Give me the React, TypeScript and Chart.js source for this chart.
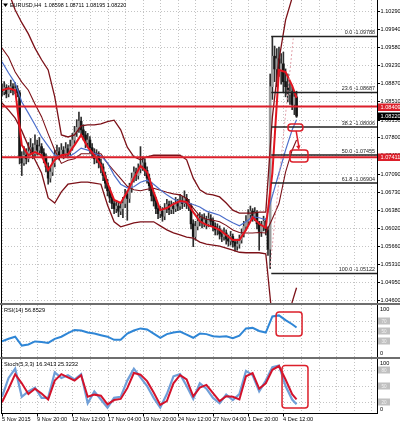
import { useEffect, useRef } from "react";
import { Chart, registerables } from "chart.js";

Chart.register(...registerables);

// ---------- EURUSD H4 candles ----------
const SYMBOL = "EURUSD,H4";

const OPENS = [
  1.0875, 1.0870, 1.0878, 1.0866, 1.0874, 1.0880, 1.0872, 1.0876, 1.0868, 1.0742,
  1.0730, 1.0745, 1.0738, 1.0752, 1.0760, 1.0748, 1.0765, 1.0755, 1.0762, 1.0750,
  1.0740, 1.0722, 1.0700, 1.0712, 1.0730, 1.0745, 1.0752, 1.0746, 1.0755, 1.0748,
  1.0758, 1.0750, 1.0762, 1.0775, 1.0790, 1.0800, 1.0812, 1.0795, 1.0785, 1.0770,
  1.0775, 1.0760, 1.0750, 1.0738, 1.0745, 1.0730, 1.0722, 1.0705, 1.0690, 1.0675,
  1.0662, 1.0650, 1.0640, 1.0645, 1.0635, 1.0640, 1.0650, 1.0668, 1.0660, 1.0680,
  1.0700, 1.0712, 1.0705, 1.0718, 1.0725, 1.0730, 1.0715, 1.0700, 1.0685, 1.0665,
  1.0655, 1.0640, 1.0630, 1.0635, 1.0625, 1.0640, 1.0648, 1.0638, 1.0645, 1.0640,
  1.0650, 1.0645, 1.0655, 1.0650, 1.0660, 1.0650, 1.0645, 1.0610, 1.0585, 1.0605,
  1.0615, 1.0620, 1.0612, 1.0618, 1.0610, 1.0620, 1.0615, 1.0605, 1.0598, 1.0600,
  1.0590, 1.0585, 1.0592, 1.0580, 1.0576, 1.0585, 1.0574, 1.0566, 1.0570, 1.0578,
  1.0590, 1.0605, 1.0615, 1.0628, 1.0635, 1.0625, 1.0632, 1.0610, 1.0595, 1.0605,
  1.0615, 1.0598, 1.0560, 1.0880, 1.0940, 1.0915, 1.0935, 1.0910, 1.0925, 1.0890,
  1.0880, 1.0865, 1.0870, 1.0845, 1.08598,
];

const HIGHS = [
  1.0885, 1.0890, 1.0884, 1.0882, 1.0893, 1.0886, 1.0888, 1.0882, 1.0872, 1.0752,
  1.0762, 1.0758, 1.0770, 1.0778, 1.0768, 1.0785, 1.0775, 1.0780, 1.0768, 1.0758,
  1.0748, 1.0730, 1.0722, 1.0740, 1.0755, 1.0765, 1.0760, 1.0768, 1.0762, 1.0770,
  1.0766, 1.0775, 1.0788, 1.0802, 1.0815, 1.0830, 1.0820, 1.0805, 1.0792, 1.0788,
  1.0782, 1.0768, 1.0758, 1.0756, 1.0752, 1.0738, 1.0728, 1.0712, 1.0698, 1.0682,
  1.0668, 1.0658, 1.0655, 1.0652, 1.0650, 1.0662, 1.0678, 1.0675, 1.0690, 1.0710,
  1.0722, 1.0720, 1.0728, 1.0762, 1.0742, 1.0738, 1.0722, 1.0708, 1.0692, 1.0672,
  1.0662, 1.0648, 1.0645, 1.0642, 1.0650, 1.0658, 1.0655, 1.0655, 1.0652, 1.0662,
  1.0658, 1.0668, 1.0664, 1.0675, 1.0668, 1.0658, 1.0650, 1.0618, 1.0615, 1.0628,
  1.0632, 1.0628, 1.0630, 1.0625, 1.0632, 1.0628, 1.0622, 1.0612, 1.0610, 1.0606,
  1.0598, 1.0602, 1.0598, 1.0588, 1.0595, 1.0590, 1.0580, 1.0580, 1.0588, 1.0600,
  1.0615, 1.0626, 1.0638, 1.0645, 1.0640, 1.0642, 1.0636, 1.0615, 1.0615, 1.0625,
  1.0620, 1.0604, 1.0905, 1.0979, 1.0960, 1.0955, 1.0958, 1.0945, 1.0948, 1.0915,
  1.0905, 1.0890, 1.0880, 1.0870, 1.08711,
];

const LOWS = [
  1.0862, 1.0864, 1.0858, 1.0860, 1.0868, 1.0864, 1.0866, 1.0860, 1.0728, 1.0705,
  1.0725, 1.0728, 1.0732, 1.0745, 1.0738, 1.0742, 1.0745, 1.0748, 1.0740, 1.0730,
  1.0712, 1.0688, 1.0692, 1.0705, 1.0722, 1.0738, 1.0736, 1.0740, 1.0738, 1.0742,
  1.0740, 1.0745, 1.0755, 1.0768, 1.0782, 1.0790, 1.0785, 1.0775, 1.0760, 1.0762,
  1.0750, 1.0740, 1.0728, 1.0730, 1.0720, 1.0710, 1.0695, 1.0680, 1.0665, 1.0652,
  1.0640, 1.0630, 1.0632, 1.0624, 1.0628, 1.0622, 1.0642, 1.0617, 1.0652, 1.0672,
  1.0692, 1.0695, 1.0698, 1.0710, 1.0715, 1.0705, 1.0690, 1.0675, 1.0655, 1.0645,
  1.0630, 1.0620, 1.0622, 1.0615, 1.0618, 1.0632, 1.0628, 1.0630, 1.0630, 1.0634,
  1.0636, 1.0638, 1.0640, 1.0644, 1.0640, 1.0636, 1.0600, 1.0565, 1.0578, 1.0598,
  1.0606, 1.0602, 1.0604, 1.0600, 1.0604, 1.0606, 1.0596, 1.0588, 1.0588, 1.0580,
  1.0575, 1.0578, 1.0570, 1.0566, 1.0568, 1.0564, 1.0556, 1.0558, 1.0562, 1.0572,
  1.0584, 1.0598, 1.0608, 1.0620, 1.0615, 1.0616, 1.0600, 1.0558, 1.0585, 1.0596,
  1.0588, 1.0548, 1.0522, 1.0855, 1.0890, 1.0880, 1.0900, 1.0885, 1.0870, 1.0860,
  1.0850, 1.0845, 1.0835, 1.0825, 1.08195,
];

const CLOSES = [
  1.0870, 1.0878, 1.0866, 1.0874, 1.0880, 1.0872, 1.0876, 1.0868, 1.0742, 1.0730,
  1.0745, 1.0738, 1.0752, 1.0760, 1.0748, 1.0765, 1.0755, 1.0762, 1.0750, 1.0740,
  1.0722, 1.0700, 1.0712, 1.0730, 1.0745, 1.0752, 1.0746, 1.0755, 1.0748, 1.0758,
  1.0750, 1.0762, 1.0775, 1.0790, 1.0800, 1.0812, 1.0795, 1.0785, 1.0770, 1.0775,
  1.0760, 1.0750, 1.0738, 1.0745, 1.0730, 1.0722, 1.0705, 1.0690, 1.0675, 1.0662,
  1.0650, 1.0640, 1.0645, 1.0635, 1.0640, 1.0650, 1.0668, 1.0660, 1.0680, 1.0700,
  1.0712, 1.0705, 1.0718, 1.0725, 1.0730, 1.0715, 1.0700, 1.0685, 1.0665, 1.0655,
  1.0640, 1.0630, 1.0635, 1.0625, 1.0640, 1.0648, 1.0638, 1.0645, 1.0640, 1.0650,
  1.0645, 1.0655, 1.0650, 1.0660, 1.0650, 1.0645, 1.0610, 1.0585, 1.0605, 1.0615,
  1.0620, 1.0612, 1.0618, 1.0610, 1.0620, 1.0615, 1.0605, 1.0598, 1.0600, 1.0590,
  1.0585, 1.0592, 1.0580, 1.0576, 1.0585, 1.0574, 1.0566, 1.0570, 1.0578, 1.0590,
  1.0605, 1.0615, 1.0628, 1.0635, 1.0625, 1.0632, 1.0610, 1.0595, 1.0605, 1.0615,
  1.0598, 1.0560, 1.0880, 1.0940, 1.0915, 1.0935, 1.0910, 1.0925, 1.0890, 1.0880,
  1.0865, 1.0870, 1.0845, 1.08598, 1.08220,
];

// ---------- indicator samples (bar index of each sample) ----------
const IND_BARS = [
  0, 3, 6, 9, 12, 15, 18, 21, 24, 27, 30, 33, 36, 39, 42, 45, 48, 51, 54, 57,
  60, 63, 66, 69, 72, 75, 78, 81, 84, 87, 90, 93, 96, 99, 102, 105, 108, 111, 114, 117,
  120, 123, 126, 129, 132, 134,
];

const BB_UPPER = [
  1.1090, 1.1066, 1.1031, 1.1006, 1.0984, 1.0956, 1.0933, 1.0913, 1.0860, 1.0785,
  1.0781, 1.0785, 1.0803, 1.0805, 1.0805, 1.0807, 1.0811, 1.0814, 1.0795, 1.0761,
  1.0742, 1.0736, 1.0742, 1.0745, 1.0745, 1.0745, 1.0745, 1.0745, 1.0736, 1.0700,
  1.0677, 1.0669, 1.0667, 1.0663, 1.0651, 1.0637, 1.0631, 1.0631, 1.0631, 1.0633,
  1.0633, 1.0820, 1.0933, 1.1011, 1.1055, 1.1070,
];

const BB_MIDDLE = [
  1.0956, 1.0938, 1.0909, 1.0889, 1.0873, 1.0846, 1.0821, 1.0787, 1.0755, 1.0729,
  1.0735, 1.0738, 1.0748, 1.0748, 1.0748, 1.0748, 1.0729, 1.0714, 1.0699, 1.0684,
  1.0677, 1.0675, 1.0678, 1.0680, 1.0676, 1.0672, 1.0669, 1.0667, 1.0660, 1.0641,
  1.0625, 1.0619, 1.0617, 1.0614, 1.0607, 1.0598, 1.0593, 1.0592, 1.0592, 1.0593,
  1.0592, 1.0620, 1.0650, 1.0712, 1.0755, 1.0775,
];

const BB_LOWER = [
  1.0848, 1.0834, 1.0818, 1.0793, 1.0763, 1.0736, 1.0710, 1.0661, 1.0651, 1.0673,
  1.0688, 1.0690, 1.0692, 1.0692, 1.0690, 1.0688, 1.0647, 1.0614, 1.0604, 1.0608,
  1.0612, 1.0614, 1.0614, 1.0614, 1.0606, 1.0598, 1.0592, 1.0588, 1.0584, 1.0582,
  1.0574, 1.0570, 1.0568, 1.0566, 1.0562, 1.0558, 1.0554, 1.0553, 1.0553, 1.0553,
  1.0551, 1.0421, 1.0342, 1.0381, 1.0456, 1.0484,
];

const MA_SLOW = [
  1.0929, 1.0907, 1.0887, 1.0850, 1.0828, 1.0805, 1.0781, 1.0763, 1.0745, 1.0741,
  1.0741, 1.0749, 1.0759, 1.0755, 1.0749, 1.0744, 1.0730, 1.0706, 1.0688, 1.0681,
  1.0683, 1.0692, 1.0696, 1.0688, 1.0677, 1.0667, 1.0659, 1.0653, 1.0652, 1.0648,
  1.0643, 1.0635, 1.0631, 1.0627, 1.0619, 1.0612, 1.0606, 1.0614, 1.0624, 1.0622,
  1.0618, 1.0665, 1.0710, 1.0755, 1.0795, 1.0815,
];

const MA_FAST = [
  1.0873, 1.0877, 1.0873, 1.0765, 1.0745, 1.0751, 1.0745, 1.0716, 1.0736, 1.0745,
  1.0747, 1.0765, 1.0785, 1.0761, 1.0745, 1.0726, 1.0690, 1.0657, 1.0651, 1.0673,
  1.0700, 1.0724, 1.0712, 1.0673, 1.0637, 1.0641, 1.0649, 1.0655, 1.0653, 1.0633,
  1.0615, 1.0608, 1.0604, 1.0598, 1.0588, 1.0578, 1.0578, 1.0598, 1.0623, 1.0610,
  1.0602, 1.0710, 1.0913, 1.0909, 1.0882, 1.0858,
];

const RSI_VALUES = [
  30, 35, 39, 22, 24, 30, 29, 27, 35, 39,
  46, 52, 51, 47, 45, 42, 39, 33, 33, 45,
  51, 55, 53, 45, 37, 44, 47, 49, 43, 37,
  45, 44, 40, 39, 40, 36, 41, 55, 56, 50,
  47, 78, 80, 71, 63, 56.8529,
];

const STOCH_MAIN = [
  30, 65, 82, 30, 40, 47, 28, 28, 75, 65,
  70, 62, 72, 18, 40, 25, 10, 28, 30, 60,
  82, 66, 50, 28, 10, 35, 68, 72, 50, 26,
  55, 45, 28, 18, 34, 24, 35, 78, 70, 40,
  60, 85, 88, 50, 25, 16.3413,
];

const STOCH_SIGNAL = [
  20, 45, 72, 55, 35, 45, 36, 25, 60, 72,
  66, 60, 70, 30, 34, 32, 16, 24, 26, 46,
  74, 71, 59, 38, 15, 22, 55, 70, 62, 31,
  47, 52, 37, 22, 31, 30, 25, 68, 74, 45,
  55, 80, 87, 62, 35, 25.3232,
];

// ---------- axes ----------
const PRICE_TICKS = [
  1.1029, 1.0994, 1.0958, 1.0923, 1.0887, 1.0851, 1.0815, 1.078, 1.0745,
  1.0709, 1.0673, 1.0638, 1.0602, 1.0566, 1.0531, 1.0495, 1.046,
];
const TIME_TICK_BARS = [0, 16, 32, 48, 64, 80, 96, 112, 128];
const TIME_TICK_LABELS = [
  "5 Nov 2015", "9 Nov 20:00", "12 Nov 12:00", "17 Nov 04:00", "19 Nov 20:00",
  "24 Nov 12:00", "27 Nov 04:00", "1 Dec 20:00", "4 Dec 12:00",
];
const RSI_LEVELS = [70, 50, 30];
const STOCH_LEVELS = [80, 50, 20];

// ---------- drawn objects ----------
const LEVEL_LINES = [1.08409, 1.07411];
const FIB_RATIOS = [0, 23.6, 38.2, 50, 61.8, 100];
const FIB_PRICES = [1.09788, 1.08687, 1.08006, 1.07455, 1.06904, 1.05122];
const FIB_FROM_BAR = 122.5;
const TREND_BARS = [122, 132.5];
const TREND_PRICES = [1.0525, 1.0975];
const PRICE_BOXES = [
  { bars: [130.1, 136.9], prices: [1.08065, 1.07928] },
  { bars: [131.0, 139.2], prices: [1.07554, 1.07317] },
];
const PRICE_ARROW = { bars: [133.8, 135.1], prices: [1.07928, 1.07553] };
const RSI_BOX = { bars: [124.7, 136.5], values: [86.5, 40.4] };
const STOCH_BOX = { bars: [127.4, 139.2], values: [87.9, 9.3] };

// ---------- view ----------
const X_MIN = 0;
const X_MAX = 170.6;
const PRICE_MIN = 1.04541;
const PRICE_MAX = 1.10507;
const GRID_BARS = 8;

const FONT = '"Liberation Sans", Arial, sans-serif';
const AXIS_FONT = 5.6;
const GRID = "#c4c4c4";
const SEP = "#6e6e6e";
const BAND = "#7c1118";
const FAST = "#e3141f";
const SLOW = "#4d6fcb";
const MARK_RED = "#dc1f2a";
const BULL = "#9a9a9a";
const BEAR = "#151515";
const WICK = "#2e2e2e";

const fmt5 = (v: number) => v.toFixed(5);

function strokeLine(ctx: any, x1: number, y1: number, x2: number, y2: number) {
  ctx.beginPath();
  ctx.moveTo(x1, y1);
  ctx.lineTo(x2, y2);
  ctx.stroke();
}

function drawGrid(chart: any, yValues: number[]) {
  const { ctx, chartArea: a, scales } = chart;
  ctx.save();
  ctx.strokeStyle = GRID;
  ctx.lineWidth = 1;
  ctx.setLineDash([1, 2]);
  for (let b = 0; b <= X_MAX; b += GRID_BARS) {
    const px = Math.round(scales.x.getPixelForValue(b)) + 0.5;
    strokeLine(ctx, px, a.top, px, a.bottom);
  }
  for (const v of yValues) {
    const py = Math.round(scales.y.getPixelForValue(v)) + 0.5;
    strokeLine(ctx, a.left, py, a.right, py);
  }
  ctx.restore();
}

function drawFrame(chart: any) {
  const { ctx, chartArea: a } = chart;
  ctx.save();
  ctx.setLineDash([]);
  ctx.strokeStyle = "#000";
  ctx.lineWidth = 1;
  strokeLine(ctx, Math.round(a.right) + 0.5, a.top, Math.round(a.right) + 0.5, a.bottom);
  strokeLine(ctx, 1.5, a.top, 1.5, a.bottom);
  ctx.restore();
}

function markBox(chart: any, bars: number[], vals: number[]) {
  const { ctx, scales } = chart;
  const x0 = scales.x.getPixelForValue(bars[0]);
  const x1 = scales.x.getPixelForValue(bars[1]);
  const y0 = scales.y.getPixelForValue(vals[0]);
  const y1 = scales.y.getPixelForValue(vals[1]);
  ctx.save();
  ctx.setLineDash([]);
  ctx.strokeStyle = MARK_RED;
  ctx.lineWidth = 1.5;
  ctx.beginPath();
  ctx.roundRect(x0, Math.min(y0, y1), x1 - x0, Math.abs(y1 - y0), 3);
  ctx.stroke();
  ctx.restore();
}

function levelTags(chart: any, levels: number[]) {
  const { ctx, chartArea: a, scales } = chart;
  ctx.save();
  ctx.font = `4.6px ${FONT}`;
  ctx.textBaseline = "middle";
  ctx.textAlign = "center";
  for (const v of levels) {
    const py = Math.round(scales.y.getPixelForValue(v));
    ctx.fillStyle = "#c0c0c0";
    ctx.fillRect(a.right + 1, py - 3.5, 12, 7);
    ctx.fillStyle = "#f2f2f2";
    ctx.fillText(String(v), a.right + 7, py + 0.3);
  }
  ctx.restore();
}

function subTitle(chart: any, text: string, top: string, bottom: string) {
  const { ctx, chartArea: a } = chart;
  ctx.save();
  ctx.fillStyle = "#000";
  ctx.font = `5.6px ${FONT}`;
  ctx.textBaseline = "middle";
  ctx.textAlign = "left";
  ctx.fillText(text, 4, a.top + 5.5);
  ctx.font = `${AXIS_FONT}px ${FONT}`;
  ctx.fillText(top, a.right + 3, a.top + 4);
  ctx.fillText(bottom, a.right + 3, a.bottom - 4);
  ctx.restore();
}

const mainDecor = {
  id: "mainDecor",
  beforeDatasetsDraw(chart: any) {
    drawGrid(chart, PRICE_TICKS);
  },
  afterDatasetsDraw(chart: any) {
    const { ctx, chartArea: a, scales } = chart;
    const xs = scales.x;
    const ys = scales.y;
    // Fibonacci captions
    ctx.save();
    ctx.font = `5.4px ${FONT}`;
    ctx.fillStyle = "#1c1c1c";
    ctx.textAlign = "right";
    ctx.textBaseline = "bottom";
    FIB_RATIOS.forEach((r, k) => {
      const py = ys.getPixelForValue(FIB_PRICES[k]);
      ctx.fillText(`${r.toFixed(1)} -${fmt5(FIB_PRICES[k])}`, a.right - 2, py - 0.8);
    });
    ctx.restore();
    // highlighted zones and arrow
    PRICE_BOXES.forEach((b) => markBox(chart, b.bars, b.prices));
    const ax0 = xs.getPixelForValue(PRICE_ARROW.bars[0]);
    const ax1 = xs.getPixelForValue(PRICE_ARROW.bars[1]);
    const ay0 = ys.getPixelForValue(PRICE_ARROW.prices[0]);
    const ay1 = ys.getPixelForValue(PRICE_ARROW.prices[1]);
    ctx.save();
    ctx.strokeStyle = MARK_RED;
    ctx.fillStyle = MARK_RED;
    ctx.lineWidth = 1.5;
    strokeLine(ctx, ax0, ay0, ax1, ay1 - 3);
    const ang = Math.atan2(ay1 - ay0, ax1 - ax0);
    ctx.beginPath();
    ctx.moveTo(ax1, ay1);
    ctx.lineTo(ax1 - 5 * Math.cos(ang - 0.45), ay1 - 5 * Math.sin(ang - 0.45));
    ctx.lineTo(ax1 - 5 * Math.cos(ang + 0.45), ay1 - 5 * Math.sin(ang + 0.45));
    ctx.closePath();
    ctx.fill();
    ctx.restore();
  },
  afterDraw(chart: any) {
    const { ctx, chartArea: a, scales } = chart;
    const ys = scales.y;
    drawFrame(chart);
    ctx.save();
    ctx.font = `${AXIS_FONT}px ${FONT}`;
    ctx.textBaseline = "middle";
    ctx.textAlign = "left";
    ctx.fillStyle = "#000";
    ctx.strokeStyle = "#000";
    ctx.lineWidth = 1;
    for (const p of PRICE_TICKS) {
      const py = Math.round(ys.getPixelForValue(p)) + 0.5;
      strokeLine(ctx, a.right, py, a.right + 3, py);
      ctx.fillText(fmt5(p), a.right + 3.5, py);
    }
    const last = CLOSES.length - 1;
    const tag = (v: number, bg: string) => {
      const py = Math.round(ys.getPixelForValue(v));
      ctx.fillStyle = bg;
      ctx.fillRect(a.right + 1, py - 3.5, 400 - a.right - 1, 7.5);
      ctx.fillStyle = "#fff";
      ctx.fillText(fmt5(v), a.right + 3.5, py + 0.3);
    };
    tag(LEVEL_LINES[0], MARK_RED);
    tag(CLOSES[last], "#000");
    tag(LEVEL_LINES[1], MARK_RED);
    // symbol header
    ctx.fillStyle = "#000";
    ctx.beginPath();
    ctx.moveTo(3, 3.5);
    ctx.lineTo(8, 3.5);
    ctx.lineTo(5.5, 7);
    ctx.closePath();
    ctx.fill();
    ctx.font = `5.4px ${FONT}`;
    ctx.fillText(
      `${SYMBOL}  ${fmt5(OPENS[last])} ${fmt5(HIGHS[last])} ${fmt5(LOWS[last])} ${fmt5(CLOSES[last])}`,
      10,
      5.5
    );
    ctx.restore();
  },
};

const rsiDecor = {
  id: "rsiDecor",
  beforeDatasetsDraw(chart: any) {
    drawGrid(chart, RSI_LEVELS);
  },
  afterDatasetsDraw(chart: any) {
    markBox(chart, RSI_BOX.bars, RSI_BOX.values);
  },
  afterDraw(chart: any) {
    drawFrame(chart);
    levelTags(chart, RSI_LEVELS);
    subTitle(chart, `RSI(14) ${RSI_VALUES[RSI_VALUES.length - 1].toFixed(4)}`, "100", "0");
  },
};

const stochDecor = {
  id: "stochDecor",
  beforeDatasetsDraw(chart: any) {
    drawGrid(chart, STOCH_LEVELS);
  },
  afterDatasetsDraw(chart: any) {
    markBox(chart, STOCH_BOX.bars, STOCH_BOX.values);
  },
  afterDraw(chart: any) {
    const { ctx, chartArea: a, scales } = chart;
    drawFrame(chart);
    levelTags(chart, STOCH_LEVELS);
    const n = STOCH_MAIN.length - 1;
    subTitle(
      chart,
      `Stoch(5,3,3) ${STOCH_MAIN[n].toFixed(4)} ${STOCH_SIGNAL[n].toFixed(4)}`,
      "100",
      "0"
    );
    ctx.save();
    ctx.strokeStyle = "#000";
    ctx.lineWidth = 1;
    const by = Math.round(a.bottom) + 0.5;
    strokeLine(ctx, 1, by, Math.round(a.right) + 1, by);
    ctx.fillStyle = "#000";
    ctx.font = `${AXIS_FONT}px ${FONT}`;
    ctx.textBaseline = "middle";
    ctx.textAlign = "left";
    TIME_TICK_BARS.forEach((b, k) => {
      const px = Math.round(scales.x.getPixelForValue(b)) + 0.5;
      strokeLine(ctx, px, by, px, by + 3);
      ctx.fillText(TIME_TICK_LABELS[k], px - 0.5, by + 5.5);
    });
    ctx.restore();
  },
};

const series = (vals: number[]) => vals.map((v, k) => ({ x: IND_BARS[k], y: v }));
const flat = (from: number, y: number) => [
  { x: from, y },
  { x: X_MAX, y },
];

const lineSet = (data: any[], color: string, width: number, order: number, extra: any = {}) => ({
  type: "line",
  data,
  borderColor: color,
  borderWidth: width,
  pointRadius: 0,
  pointHoverRadius: 0,
  tension: 0,
  fill: false,
  order,
  ...extra,
});

const baseOptions = (padding: any, yMin: number, yMax: number) => ({
  responsive: false,
  animation: false,
  devicePixelRatio: 1,
  events: [],
  layout: { padding },
  plugins: { legend: { display: false }, tooltip: { enabled: false }, title: { display: false } },
  scales: {
    x: { type: "linear", min: X_MIN, max: X_MAX, display: false, offset: false },
    y: { type: "linear", min: yMin, max: yMax, display: false },
  },
});

function mainConfig(): any {
  const wicks = OPENS.map((_, i) => ({ x: i, y: [LOWS[i], HIGHS[i]] }));
  const bodies = OPENS.map((o, i) => ({ x: i, y: [o, CLOSES[i]] }));
  const bodyColors = OPENS.map((o, i) => (CLOSES[i] >= o ? BULL : BEAR));
  return {
    type: "bar",
    data: {
      datasets: [
        { type: "bar", data: wicks, backgroundColor: WICK, barThickness: 1, grouped: false, order: 20 },
        {
          type: "bar",
          data: bodies,
          backgroundColor: bodyColors,
          barThickness: 2,
          minBarLength: 1,
          grouped: false,
          order: 19,
        },
        lineSet(series(BB_UPPER), BAND, 1.3, 10),
        lineSet(series(BB_MIDDLE), BAND, 1.1, 10),
        lineSet(series(BB_LOWER), BAND, 1.3, 10),
        lineSet(series(MA_SLOW), SLOW, 1.2, 9),
        lineSet(series(MA_FAST), FAST, 2, 8),
        lineSet(
          [
            { x: TREND_BARS[0], y: TREND_PRICES[0] },
            { x: TREND_BARS[1], y: TREND_PRICES[1] },
          ],
          "#e2a1aa",
          1,
          7,
          { borderDash: [2, 2] }
        ),
        ...LEVEL_LINES.map((p) => lineSet(flat(X_MIN, p), MARK_RED, 2, 5)),
        ...FIB_PRICES.map((p) => lineSet(flat(FIB_FROM_BAR, p), "#222222", 1.4, 4)),
      ],
    },
    options: baseOptions({ left: 2, right: 23, top: 0, bottom: 0 }, PRICE_MIN, PRICE_MAX),
    plugins: [mainDecor],
  };
}

function rsiConfig(): any {
  return {
    type: "line",
    data: { datasets: [lineSet(series(RSI_VALUES), "#2f86d6", 2, 1)] },
    options: baseOptions({ left: 2, right: 23, top: 0, bottom: 0 }, 0, 100),
    plugins: [rsiDecor],
  };
}

function stochConfig(): any {
  return {
    type: "line",
    data: {
      datasets: [
        lineSet(series(STOCH_MAIN), "#6f9fd8", 2.2, 2),
        lineSet(series(STOCH_SIGNAL), "#d3122b", 2, 1),
      ],
    },
    options: baseOptions({ left: 2, right: 23, top: 0, bottom: 10 }, 0, 100),
    plugins: [stochDecor],
  };
}

export default function App() {
  const mainRef = useRef<HTMLCanvasElement>(null);
  const rsiRef = useRef<HTMLCanvasElement>(null);
  const stochRef = useRef<HTMLCanvasElement>(null);

  useEffect(() => {
    const charts = [
      new Chart(mainRef.current as HTMLCanvasElement, mainConfig()),
      new Chart(rsiRef.current as HTMLCanvasElement, rsiConfig()),
      new Chart(stochRef.current as HTMLCanvasElement, stochConfig()),
    ];
    return () => charts.forEach((c) => c.destroy());
  }, []);

  const place = (top: number, height: number): any => ({
    position: "absolute",
    left: 0,
    top,
    width: 400,
    height,
  });

  return (
    <div
      style={{
        position: "absolute",
        left: 0,
        top: 0,
        width: 400,
        height: 423,
        background: "#ffffff",
        overflow: "hidden",
      }}
    >
      <canvas ref={mainRef} width={400} height={303} style={place(0, 303)} />
      <canvas ref={rsiRef} width={400} height={52} style={place(305, 52)} />
      <canvas ref={stochRef} width={400} height={64} style={place(359, 64)} />
      <div style={{ ...place(303, 2), background: SEP }} />
      <div style={{ ...place(357, 2), background: SEP }} />
    </div>
  );
}
